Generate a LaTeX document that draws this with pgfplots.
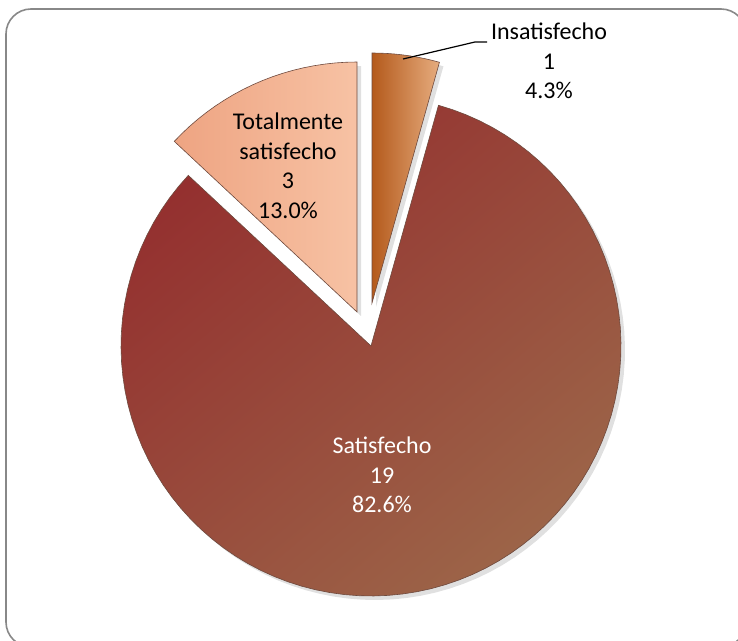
\documentclass[border=0pt]{standalone}
\usepackage{pgfplots}
\pgfplotsset{compat=1.18}
\usepackage{pgfplotstable}
\usepackage{fontspec}
\setmainfont{Carlito}

\definecolor{bigA}{HTML}{94302F}
\definecolor{bigB}{HTML}{9C6448}
\definecolor{totA}{HTML}{EEA482}
\definecolor{totB}{HTML}{F7C2A4}
\definecolor{insA}{HTML}{B45A1C}
\definecolor{insB}{HTML}{E6AC7E}
\definecolor{frame}{HTML}{888888}
\definecolor{rim}{HTML}{6E4A3E}

\pgfplotstableread[col sep=comma]{
label,count
Insatisfecho,1
Satisfecho,19
Totalmente,3
}\piedata

\pgfplotstablegetelem{0}{count}\of\piedata \let\nA\pgfplotsretval
\pgfplotstablegetelem{1}{count}\of\piedata \let\nB\pgfplotsretval
\pgfplotstablegetelem{2}{count}\of\piedata \let\nC\pgfplotsretval
\pgfmathsetmacro\tot{\nA+\nB+\nC}
\pgfmathsetmacro\aA{90}
\pgfmathsetmacro\aB{\aA-360*\nA/\tot}
\pgfmathsetmacro\aC{\aB-360*\nB/\tot}
\pgfmathsetmacro\aD{\aC-360*\nC/\tot}

% pie centre and radius (in pixel units of the 738x641 picture)
\def\cx{371}\def\cy{295}\def\R{250}
% exploded slice centres
\def\ixx{372}\def\iyy{338}
\def\txx{357}\def\tyy{329}

\begin{document}
\begin{tikzpicture}
\begin{axis}[
  scale only axis, width=738bp, height=641bp,
  xmin=0, xmax=738, ymin=0, ymax=641,
  hide axis, clip=false,
]
% frame
\draw[frame, line width=1.6bp, rounded corners=25bp]
  (axis cs:6,632) rectangle (axis cs:746,-6);

% shadows
\addplot[draw=none, fill=black, opacity=0.12, domain=\aC:\aB, samples=90, variable=\t]
  ({\cx+4+\R*cos(\t)},{\cy-4+\R*sin(\t)}) -- (axis cs:\cx+4,\cy-4) -- cycle;
\addplot[draw=none, fill=black, opacity=0.12, domain=\aB:\aA, samples=10, variable=\t]
  ({\ixx+4+\R*cos(\t)},{\iyy-4+\R*sin(\t)}) -- (axis cs:\ixx+4,\iyy-4) -- cycle;
\addplot[draw=none, fill=black, opacity=0.12, domain=\aD:\aC, samples=20, variable=\t]
  ({\txx+4+\R*cos(\t)},{\tyy-4+\R*sin(\t)}) -- (axis cs:\txx+4,\tyy-4) -- cycle;

% Satisfecho
\addplot[draw=rim, line width=0.6bp, top color=bigA, bottom color=bigB, shading angle=40,
  domain=\aC:\aB, samples=90, variable=\t]
  ({\cx+\R*cos(\t)},{\cy+\R*sin(\t)}) -- (axis cs:\cx,\cy) -- cycle;
% Insatisfecho
\addplot[draw=rim, line width=0.6bp, left color=insA, right color=insB,
  domain=\aB:\aA, samples=10, variable=\t]
  ({\ixx+\R*cos(\t)},{\iyy+\R*sin(\t)}) -- (axis cs:\ixx,\iyy) -- cycle;
% Totalmente satisfecho
\addplot[draw=rim, line width=0.6bp, left color=totA, right color=totB,
  domain=\aD:\aC, samples=20, variable=\t]
  ({\txx+\R*cos(\t)},{\tyy+\R*sin(\t)}) -- (axis cs:\txx,\tyy) -- cycle;

% leader line
\draw[black, line width=1.2bp] (axis cs:403,582) -- (axis cs:475,599) -- (axis cs:487,599);

% labels
\node[align=center, font=\fontsize{24bp}{29.5bp}\selectfont, text=black]
  at (axis cs:549,580) {Insatisfecho\\1\\4.3\%};
\node[align=center, font=\fontsize{24bp}{29.5bp}\selectfont, text=black]
  at (axis cs:288,475) {Totalmente\\satisfecho\\3\\13.0\%};
\node[align=center, font=\fontsize{24bp}{29.5bp}\selectfont, text=white]
  at (axis cs:382,166) {Satisfecho\\19\\82.6\%};
\end{axis}
\pgfresetboundingbox
\useasboundingbox (0,0) rectangle (738bp,641bp);
\end{tikzpicture}
\end{document}
